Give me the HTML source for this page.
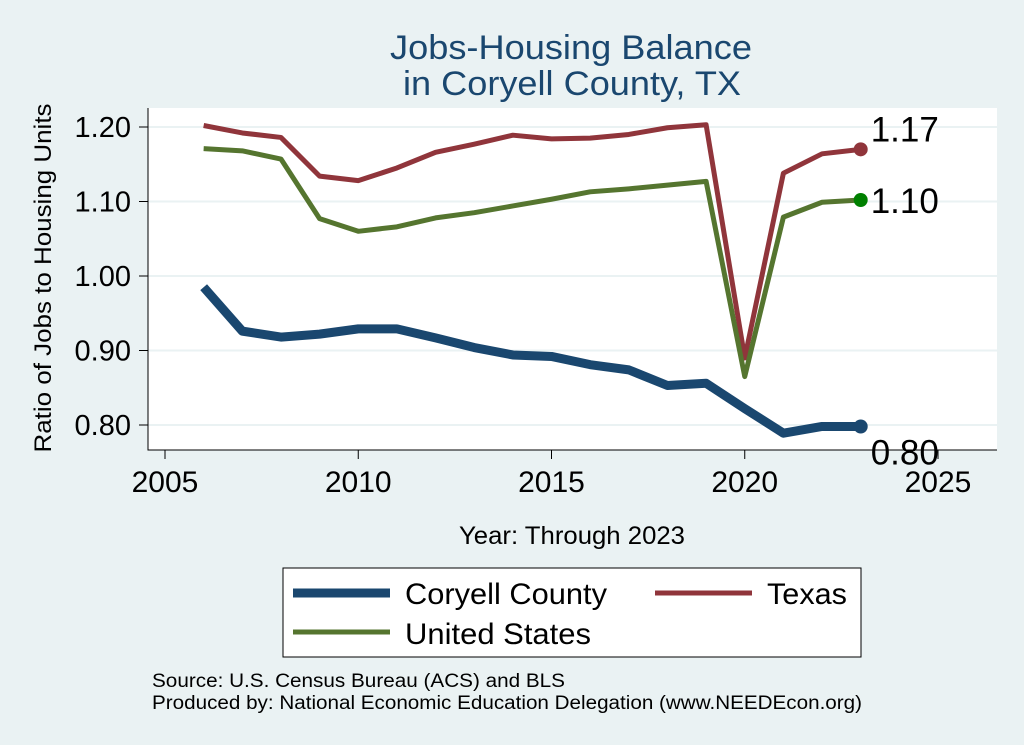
<!DOCTYPE html>
<html><head><meta charset="utf-8"><style>
body{margin:0;background:#eaf2f3;font-family:"Liberation Sans",sans-serif;}
svg{display:block}
</style></head><body>
<svg width="1024" height="745" viewBox="0 0 1024 745">
<rect x="0" y="0" width="1024" height="745" fill="#eaf2f3"/>
<text x="571" y="59" font-size="34" fill="#1a476f" text-anchor="middle" textLength="362" lengthAdjust="spacingAndGlyphs">Jobs-Housing Balance</text>
<text x="572" y="95" font-size="34" fill="#1a476f" text-anchor="middle" textLength="338" lengthAdjust="spacingAndGlyphs">in Coryell County, TX</text>
<rect x="148" y="108" width="849" height="342" fill="#fff"/>
<g id="grid"></g>
<g id="axes"></g>
<g id="series"></g>
<text x="51" y="278" font-size="24" fill="#000" text-anchor="middle" textLength="349" lengthAdjust="spacingAndGlyphs" transform="rotate(-90 51 278)">Ratio of Jobs to Housing Units</text>
<text x="572" y="544" font-size="25" fill="#000" text-anchor="middle" textLength="226" lengthAdjust="spacingAndGlyphs">Year: Through 2023</text>
<g>
<rect x="283" y="568" width="578" height="89" fill="#fff" stroke="#000" stroke-width="1"/>
<g><line x1="293" y1="593" x2="390" y2="593" stroke="#1a476f" stroke-width="9"/><text x="405" y="604" font-size="30" textLength="202" lengthAdjust="spacingAndGlyphs">Coryell County</text></g>
<g><line x1="655" y1="593" x2="752" y2="593" stroke="#90353b" stroke-width="5"/><text x="767" y="604" font-size="30" textLength="80" lengthAdjust="spacingAndGlyphs">Texas</text></g>
<g><line x1="293" y1="632" x2="390" y2="632" stroke="#55752f" stroke-width="5"/><text x="405" y="644" font-size="30" textLength="186" lengthAdjust="spacingAndGlyphs">United States</text></g>
</g>
<text x="152" y="687" font-size="19" textLength="413" lengthAdjust="spacingAndGlyphs">Source: U.S. Census Bureau (ACS) and BLS</text>
<text x="152" y="709" font-size="19" textLength="710" lengthAdjust="spacingAndGlyphs">Produced by: National Economic Education Delegation (www.NEEDEcon.org)</text>
</svg>
<script>
const years=[2006,2007,2008,2009,2010,2011,2012,2013,2014,2015,2016,2017,2018,2019,2020,2021,2022,2023];
const coryell=[0.985,0.926,0.918,0.922,0.929,0.929,0.917,0.904,0.894,0.892,0.881,0.874,0.853,0.856,0.822,0.789,0.798,0.798];
const texas=[1.202,1.192,1.186,1.134,1.128,1.145,1.166,1.177,1.189,1.184,1.185,1.190,1.199,1.203,0.890,1.138,1.164,1.170];
const us=[1.171,1.168,1.157,1.077,1.060,1.066,1.078,1.085,1.094,1.103,1.113,1.117,1.122,1.127,0.865,1.079,1.099,1.102];
const yTicks=[0.8,0.9,1.0,1.1,1.2];
const yTickLabels=["0.80","0.90","1.00","1.10","1.20"];
const xTicks=[2005,2010,2015,2020,2025];
const NS="http://www.w3.org/2000/svg";
function X(v){return 165+(v-2005)*(938-165)/20;}
function Y(v){return 425-(v-0.8)*(425-127)/0.4;}
function mk(tag,attrs,parent){const e=document.createElementNS(NS,tag);for(const k in attrs)e.setAttribute(k,attrs[k]);document.getElementById(parent).appendChild(e);return e;}
yTicks.forEach((t,i)=>{
 const g=mk('line',{x1:148,x2:997,y1:Y(t),y2:Y(t),stroke:'#eaf2f3','stroke-width':2},'grid');
 
 
 const tk=mk('line',{x1:139,x2:148,y1:Y(t),y2:Y(t),stroke:'#000','stroke-width':1},'axes');
 
 
 const l=mk('text',{x:131,y:Y(t)+10,'font-size':29,'text-anchor':'end'},'axes');
 l.textContent=yTickLabels[i];
 
 
});
xTicks.forEach(t=>{
 const tk=mk('line',{x1:X(t),x2:X(t),y1:450,y2:459,stroke:'#000','stroke-width':1},'axes');
 
 
 const l=mk('text',{x:X(t),y:492,'font-size':30,'text-anchor':'middle'},'axes');
 l.textContent=t;
 
 
});
const ax=mk('path',{d:'M148 108 V450 H997',fill:'none',stroke:'#000','stroke-width':1},'axes');


function series(vals,color,w,name,dot,dy){
 const p=mk('polyline',{points:vals.map((v,i)=>X(years[i])+','+Y(v)).join(' '),fill:'none',stroke:color,'stroke-width':w,'stroke-linejoin':'round'},'series');
 
 
 const last=vals[vals.length-1];
 const c=mk('circle',{cx:X(years[years.length-1]),cy:Y(last),r:7,fill:dot},'series');
 
 
 const t=mk('text',{x:X(years[years.length-1])+10,y:Y(last)+dy,'font-size':35},'series');
 t.textContent=last.toFixed(2);
 
 
}
series(texas,'#90353b',5,'texas','#90353b',-8);
series(us,'#55752f',5,'united-states','#008000',13);
series(coryell,'#1a476f',9,'coryell-county','#1a476f',38);
</script>
</body></html>
